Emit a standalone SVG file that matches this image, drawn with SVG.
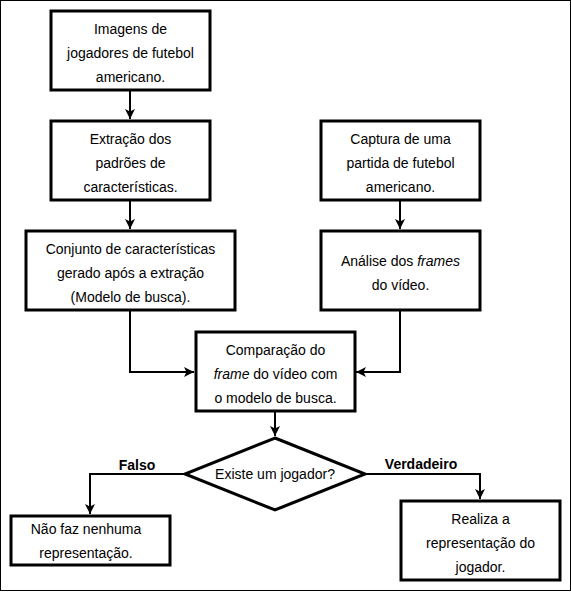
<svg xmlns="http://www.w3.org/2000/svg" width="571" height="592" viewBox="0 0 571 592">
<style>
.box{fill:#fff;stroke:#000;stroke-width:3}
.t{font-family:"Liberation Sans",Arial,sans-serif;font-size:14px;fill:#000;text-anchor:middle}
.b{font-weight:bold}
.c{fill:none;stroke:#000;stroke-width:2}
</style>
<defs>
<marker id="ah" viewBox="0 0 10 10" refX="10" refY="5" markerWidth="10" markerHeight="10" markerUnits="userSpaceOnUse" orient="auto">
<path d="M0,0 L10,5 L0,10 L2.5,5 z" fill="#000"/>
</marker>
</defs>
<rect x="0.5" y="0.5" width="570" height="590" fill="#fff" stroke="#000" stroke-width="1"/>
<g id="connectors">
<path class="c" d="M130,90 V119" marker-end="url(#ah)"/>
<path class="c" d="M130,200 V229" marker-end="url(#ah)"/>
<path class="c" d="M400,200 V229" marker-end="url(#ah)"/>
<path class="c" d="M130,310 V372 H194" marker-end="url(#ah)"/>
<path class="c" d="M400,310 V372 H356" marker-end="url(#ah)"/>
<path class="c" d="M275,411 V436" marker-end="url(#ah)"/>
<path class="c" d="M185,474 H90 V514" marker-end="url(#ah)"/>
<path class="c" d="M365,474 H480 V499" marker-end="url(#ah)"/>
<text class="t b" x="137" y="470">Falso</text>
<text class="t b" x="421" y="469">Verdadeiro</text>
</g>
<g id="n1">
<rect class="box" x="51" y="11" width="159" height="79"/>
<text class="t" x="130.5" y="34">Imagens de</text>
<text class="t" x="130.5" y="58">jogadores de futebol</text>
<text class="t" x="130.5" y="82">americano.</text>
</g>
<g id="n2">
<rect class="box" x="51" y="121" width="159" height="79"/>
<text class="t" x="130.5" y="144">Extração dos</text>
<text class="t" x="130.5" y="168">padrões de</text>
<text class="t" x="130.5" y="192">características.</text>
</g>
<g id="n3">
<rect class="box" x="26" y="231" width="209" height="79"/>
<text class="t" x="130.5" y="254">Conjunto de características</text>
<text class="t" x="130.5" y="278">gerado após a extração</text>
<text class="t" x="130.5" y="302">(Modelo de busca).</text>
</g>
<g id="n4">
<rect class="box" x="321" y="121" width="159" height="79"/>
<text class="t" x="400.5" y="144">Captura de uma</text>
<text class="t" x="400.5" y="168">partida de futebol</text>
<text class="t" x="400.5" y="192">americano.</text>
</g>
<g id="n5">
<rect class="box" x="321" y="231" width="159" height="79"/>
<text class="t" x="400.5" y="266">Análise dos <tspan font-style="italic">frames</tspan></text>
<text class="t" x="400.5" y="290">do vídeo.</text>
</g>
<g id="n6">
<rect class="box" x="196" y="332" width="159" height="79"/>
<text class="t" x="275.5" y="355">Comparação do</text>
<text class="t" x="275.5" y="379"><tspan font-style="italic">frame</tspan> do vídeo com</text>
<text class="t" x="275.5" y="403">o modelo de busca.</text>
</g>
<g id="n7">
<polygon points="275,438 365,474 275,510 185,474" fill="#fff" stroke="#000" stroke-width="3"/>
<text class="t" x="275" y="479">Existe um jogador?</text>
</g>
<g id="n8">
<rect class="box" x="11" y="516" width="159" height="49"/>
<text class="t" x="86" y="534">Não faz nenhuma</text>
<text class="t" x="86" y="558">representação.</text>
</g>
<g id="n9">
<rect class="box" x="401" y="501" width="159" height="79"/>
<text class="t" x="480.5" y="524">Realiza a</text>
<text class="t" x="480.5" y="548">representação do</text>
<text class="t" x="480.5" y="572">jogador.</text>
</g>
</svg>
